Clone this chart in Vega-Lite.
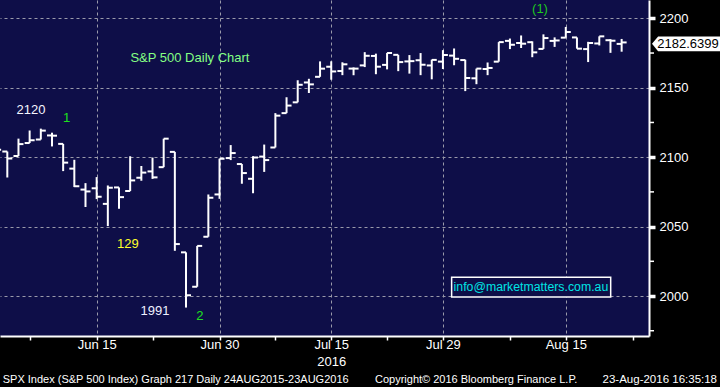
{
  "$schema": "https://vega.github.io/schema/vega-lite/v6.json",
  "width": 649,
  "height": 336,
  "autosize": {"type": "none"},
  "padding": {"left": 0, "top": 0, "right": 71, "bottom": 51},
  "background": "black",
  "config": {
    "view": {"fill": "#0e0e48", "stroke": null},
    "font": "Liberation Sans",
    "axis": {
      "labelFont": "Liberation Sans",
      "labelFontSize": 13,
      "labelColor": "white",
      "domainColor": "white",
      "domainWidth": 2,
      "tickColor": "white",
      "gridColor": "#9a9aaa",
      "gridDash": [3, 3],
      "gridWidth": 1
    }
  },
  "datasets": {
    "ohlc": [
      {"d": "2016-06-02", "i": -1, "o": 2097.71, "h": 2105.26, "l": 2088.59, "c": 2105.26},
      {"d": "2016-06-03", "i": 0, "o": 2104.07, "h": 2104.07, "l": 2085.36, "c": 2099.13},
      {"d": "2016-06-06", "i": 1, "o": 2100.83, "h": 2113.36, "l": 2100.83, "c": 2109.41},
      {"d": "2016-06-07", "i": 2, "o": 2110.18, "h": 2119.22, "l": 2110.18, "c": 2112.13},
      {"d": "2016-06-08", "i": 3, "o": 2112.71, "h": 2120.55, "l": 2112.71, "c": 2119.12},
      {"d": "2016-06-09", "i": 4, "o": 2115.65, "h": 2117.64, "l": 2107.73, "c": 2115.48},
      {"d": "2016-06-10", "i": 5, "o": 2109.57, "h": 2109.57, "l": 2089.96, "c": 2096.07},
      {"d": "2016-06-13", "i": 6, "o": 2091.75, "h": 2098.12, "l": 2078.46, "c": 2079.06},
      {"d": "2016-06-14", "i": 7, "o": 2076.65, "h": 2081.30, "l": 2064.10, "c": 2075.32},
      {"d": "2016-06-15", "i": 8, "o": 2077.60, "h": 2085.65, "l": 2069.80, "c": 2071.50},
      {"d": "2016-06-16", "i": 9, "o": 2066.36, "h": 2079.62, "l": 2050.37, "c": 2077.99},
      {"d": "2016-06-17", "i": 10, "o": 2078.20, "h": 2078.20, "l": 2062.84, "c": 2071.22},
      {"d": "2016-06-20", "i": 11, "o": 2075.58, "h": 2100.66, "l": 2075.58, "c": 2083.25},
      {"d": "2016-06-21", "i": 12, "o": 2085.19, "h": 2093.66, "l": 2083.02, "c": 2088.90},
      {"d": "2016-06-22", "i": 13, "o": 2089.75, "h": 2099.71, "l": 2084.36, "c": 2085.45},
      {"d": "2016-06-23", "i": 14, "o": 2092.80, "h": 2113.32, "l": 2092.80, "c": 2113.32},
      {"d": "2016-06-24", "i": 15, "o": 2103.81, "h": 2103.81, "l": 2032.57, "c": 2037.41},
      {"d": "2016-06-27", "i": 16, "o": 2031.45, "h": 2031.45, "l": 1991.68, "c": 2000.54},
      {"d": "2016-06-28", "i": 17, "o": 2006.67, "h": 2036.09, "l": 2006.67, "c": 2036.09},
      {"d": "2016-06-29", "i": 18, "o": 2042.69, "h": 2073.13, "l": 2042.69, "c": 2070.77},
      {"d": "2016-06-30", "i": 19, "o": 2073.17, "h": 2098.94, "l": 2070.00, "c": 2098.86},
      {"d": "2016-07-01", "i": 20, "o": 2099.34, "h": 2108.71, "l": 2097.90, "c": 2102.95},
      {"d": "2016-07-05", "i": 21, "o": 2095.05, "h": 2095.05, "l": 2080.86, "c": 2088.55},
      {"d": "2016-07-06", "i": 22, "o": 2084.43, "h": 2100.72, "l": 2074.02, "c": 2099.73},
      {"d": "2016-07-07", "i": 23, "o": 2100.42, "h": 2109.08, "l": 2089.39, "c": 2097.90},
      {"d": "2016-07-08", "i": 24, "o": 2106.97, "h": 2131.71, "l": 2106.97, "c": 2129.90},
      {"d": "2016-07-11", "i": 25, "o": 2131.72, "h": 2143.16, "l": 2131.72, "c": 2137.16},
      {"d": "2016-07-12", "i": 26, "o": 2139.50, "h": 2155.40, "l": 2139.50, "c": 2152.14},
      {"d": "2016-07-13", "i": 27, "o": 2153.81, "h": 2156.45, "l": 2146.21, "c": 2152.43},
      {"d": "2016-07-14", "i": 28, "o": 2157.88, "h": 2168.99, "l": 2157.88, "c": 2163.75},
      {"d": "2016-07-15", "i": 29, "o": 2165.13, "h": 2169.05, "l": 2155.79, "c": 2161.74},
      {"d": "2016-07-18", "i": 30, "o": 2162.04, "h": 2168.35, "l": 2159.07, "c": 2166.89},
      {"d": "2016-07-19", "i": 31, "o": 2163.79, "h": 2164.63, "l": 2159.01, "c": 2163.78},
      {"d": "2016-07-20", "i": 32, "o": 2166.10, "h": 2175.63, "l": 2164.89, "c": 2173.02},
      {"d": "2016-07-21", "i": 33, "o": 2172.91, "h": 2174.56, "l": 2159.75, "c": 2165.17},
      {"d": "2016-07-22", "i": 34, "o": 2166.47, "h": 2175.11, "l": 2163.24, "c": 2175.03},
      {"d": "2016-07-25", "i": 35, "o": 2173.71, "h": 2173.71, "l": 2161.95, "c": 2168.48},
      {"d": "2016-07-26", "i": 36, "o": 2168.97, "h": 2173.54, "l": 2160.18, "c": 2169.18},
      {"d": "2016-07-27", "i": 37, "o": 2169.81, "h": 2174.98, "l": 2159.07, "c": 2166.58},
      {"d": "2016-07-28", "i": 38, "o": 2166.05, "h": 2170.23, "l": 2156.08, "c": 2170.06},
      {"d": "2016-07-29", "i": 39, "o": 2168.83, "h": 2177.09, "l": 2163.49, "c": 2173.60},
      {"d": "2016-08-01", "i": 40, "o": 2173.15, "h": 2178.29, "l": 2166.21, "c": 2170.84},
      {"d": "2016-08-02", "i": 41, "o": 2169.94, "h": 2170.20, "l": 2147.58, "c": 2157.03},
      {"d": "2016-08-03", "i": 42, "o": 2156.81, "h": 2163.79, "l": 2152.56, "c": 2163.79},
      {"d": "2016-08-04", "i": 43, "o": 2163.51, "h": 2168.19, "l": 2159.07, "c": 2164.25},
      {"d": "2016-08-05", "i": 44, "o": 2168.79, "h": 2182.87, "l": 2168.79, "c": 2182.87},
      {"d": "2016-08-08", "i": 45, "o": 2183.76, "h": 2185.44, "l": 2177.85, "c": 2180.89},
      {"d": "2016-08-09", "i": 46, "o": 2182.24, "h": 2187.66, "l": 2178.61, "c": 2181.74},
      {"d": "2016-08-10", "i": 47, "o": 2182.81, "h": 2183.41, "l": 2172.00, "c": 2175.49},
      {"d": "2016-08-11", "i": 48, "o": 2177.97, "h": 2188.45, "l": 2177.97, "c": 2185.79},
      {"d": "2016-08-12", "i": 49, "o": 2183.74, "h": 2186.28, "l": 2179.42, "c": 2184.05},
      {"d": "2016-08-15", "i": 50, "o": 2186.08, "h": 2193.81, "l": 2186.08, "c": 2190.15},
      {"d": "2016-08-16", "i": 51, "o": 2186.24, "h": 2186.24, "l": 2178.14, "c": 2178.15},
      {"d": "2016-08-17", "i": 52, "o": 2177.84, "h": 2183.08, "l": 2168.50, "c": 2182.22},
      {"d": "2016-08-18", "i": 53, "o": 2181.90, "h": 2187.03, "l": 2180.46, "c": 2187.02},
      {"d": "2016-08-19", "i": 54, "o": 2184.24, "h": 2185.00, "l": 2175.13, "c": 2183.87},
      {"d": "2016-08-22", "i": 55, "o": 2181.58, "h": 2185.15, "l": 2175.96, "c": 2182.64}
    ],
    "minor": [{"v": 1975}, {"v": 2025}, {"v": 2075}, {"v": 2125}, {"v": 2175}],
    "one": [{}]
  },
  "layer": [
    {
      "data": {"name": "ohlc"},
      "mark": {"type": "rule", "color": "white", "strokeWidth": 2, "clip": true},
      "encoding": {
        "x": {
          "field": "i",
          "type": "quantitative",
          "scale": {"domain": [-0.654, 57.45], "nice": false, "zero": false},
          "axis": {
            "orient": "bottom",
            "title": null,
            "values": [2, 8, 13, 19, 24, 29, 34, 39, 45, 50, 56],
            "labelExpr": "datum.value == 8 ? 'Jun 15' : datum.value == 19 ? 'Jun 30' : datum.value == 29 ? ['Jul 15', '2016'] : datum.value == 39 ? 'Jul 29' : datum.value == 50 ? 'Aug 15' : ''",
            "labelLineHeight": 17,
            "labelBaseline": "top",
            "labelPadding": -2,
            "tickSize": 4,
            "tickWidth": 1.5,
            "labelFlush": false,
            "labelOverlap": false,
            "grid": true,
            "gridOpacity": {"condition": {"test": "indexof([8, 19, 29, 39, 50], datum.value) >= 0", "value": 1}, "value": 0}
          }
        },
        "y": {
          "field": "l",
          "type": "quantitative",
          "scale": {"domain": [1971.2, 2213.2], "nice": false, "zero": false},
          "axis": {
            "orient": "right",
            "title": null,
            "values": [2000, 2050, 2100, 2150, 2200],
            "format": "d",
            "tickSize": 6,
            "tickWidth": 3.5,
            "labelPadding": 4,
            "labelOverlap": false,
            "labelFlush": false,
            "grid": true
          }
        },
        "y2": {"field": "h"}
      }
    },
    {
      "data": {"name": "ohlc"},
      "mark": {"type": "tick", "orient": "horizontal", "color": "white", "size": 5, "thickness": 2, "xOffset": -2.5, "opacity": 1, "clip": true},
      "encoding": {
        "x": {"field": "i", "type": "quantitative"},
        "y": {"field": "o", "type": "quantitative"}
      }
    },
    {
      "data": {"name": "ohlc"},
      "mark": {"type": "tick", "orient": "horizontal", "color": "white", "size": 5, "thickness": 2, "xOffset": 2.5, "opacity": 1, "clip": true},
      "encoding": {
        "x": {"field": "i", "type": "quantitative"},
        "y": {"field": "c", "type": "quantitative"}
      }
    },
    {
      "data": {"name": "minor"},
      "mark": {"type": "rule", "color": "white", "strokeWidth": 1.5, "x2Offset": 5, "clip": false},
      "encoding": {
        "x": {"datum": 57.45, "type": "quantitative"},
        "x2": {"datum": 57.45},
        "y": {"field": "v", "type": "quantitative"}
      }
    },
    {
      "data": {"name": "one"},
      "mark": {"type": "text", "text": "S&P 500 Daily Chart", "color": "#84ff84", "fontSize": 13, "align": "center", "baseline": "middle"},
      "encoding": {"x": {"datum": 16.35, "type": "quantitative"}, "y": {"datum": 2171.4, "type": "quantitative"}}
    },
    {
      "data": {"name": "one"},
      "mark": {"type": "text", "text": "2120", "color": "#f4f6ff", "fontSize": 13, "align": "center", "baseline": "middle"},
      "encoding": {"x": {"datum": 2.12, "type": "quantitative"}, "y": {"datum": 2134.0, "type": "quantitative"}}
    },
    {
      "data": {"name": "one"},
      "mark": {"type": "text", "text": "1", "color": "#1ee01e", "fontSize": 13, "align": "center", "baseline": "middle"},
      "encoding": {"x": {"datum": 5.3, "type": "quantitative"}, "y": {"datum": 2128.2, "type": "quantitative"}}
    },
    {
      "data": {"name": "one"},
      "mark": {"type": "text", "text": "129", "color": "#ffff2a", "fontSize": 13, "align": "center", "baseline": "middle"},
      "encoding": {"x": {"datum": 10.8, "type": "quantitative"}, "y": {"datum": 2037.5, "type": "quantitative"}}
    },
    {
      "data": {"name": "one"},
      "mark": {"type": "text", "text": "1991", "color": "#eef0ff", "fontSize": 13, "align": "center", "baseline": "middle"},
      "encoding": {"x": {"datum": 13.22, "type": "quantitative"}, "y": {"datum": 1989.2, "type": "quantitative"}}
    },
    {
      "data": {"name": "one"},
      "mark": {"type": "text", "text": "2", "color": "#1ee01e", "fontSize": 13, "align": "center", "baseline": "middle"},
      "encoding": {"x": {"datum": 17.25, "type": "quantitative"}, "y": {"datum": 1985.6, "type": "quantitative"}}
    },
    {
      "data": {"name": "one"},
      "mark": {"type": "text", "text": "(1)", "color": "#1ec81e", "fontSize": 13, "align": "center", "baseline": "middle"},
      "encoding": {"x": {"datum": 47.69, "type": "quantitative"}, "y": {"datum": 2206.7, "type": "quantitative"}}
    },
    {
      "data": {"name": "one"},
      "mark": {"type": "rect", "fill": "#0e0e48", "stroke": "white", "strokeWidth": 1.5},
      "encoding": {
        "x": {"datum": 39.78, "type": "quantitative"},
        "x2": {"datum": 54.02},
        "y": {"datum": 2013.5, "type": "quantitative"},
        "y2": {"datum": 1999.3}
      }
    },
    {
      "data": {"name": "one"},
      "mark": {"type": "text", "text": "info@marketmatters.com.au", "color": "#00e4e4", "fontSize": 12.3, "align": "center", "baseline": "middle"},
      "encoding": {"x": {"datum": 46.88, "type": "quantitative"}, "y": {"datum": 2006.4, "type": "quantitative"}}
    },
    {
      "data": {"name": "one"},
      "mark": {"type": "point", "shape": "M -1 0 L -0.82 -0.22 L 1 -0.22 L 1 0.22 L -0.82 0.22 Z", "size": 4624, "filled": true, "color": "white", "opacity": 1},
      "encoding": {"x": {"datum": 60.76, "type": "quantitative"}, "y": {"datum": 2181.6, "type": "quantitative"}}
    },
    {
      "data": {"name": "one"},
      "mark": {"type": "text", "text": "2182.6399", "color": "black", "fontSize": 13, "align": "center", "baseline": "middle"},
      "encoding": {"x": {"datum": 60.94, "type": "quantitative"}, "y": {"datum": 2181.6, "type": "quantitative"}}
    },
    {
      "data": {"name": "one"},
      "mark": {"type": "text", "text": "SPX Index (S&P 500 Index) Graph 217  Daily 24AUG2015-23AUG2016", "color": "white", "fontSize": 11, "align": "left", "baseline": "alphabetic"},
      "encoding": {"x": {"datum": -0.41, "type": "quantitative"}, "y": {"datum": 1937.2, "type": "quantitative"}}
    },
    {
      "data": {"name": "one"},
      "mark": {"type": "text", "text": "Copyright© 2016 Bloomberg Finance L.P.", "color": "white", "fontSize": 11, "align": "left", "baseline": "alphabetic"},
      "encoding": {"x": {"datum": 32.92, "type": "quantitative"}, "y": {"datum": 1937.2, "type": "quantitative"}}
    },
    {
      "data": {"name": "one"},
      "mark": {"type": "text", "text": "23-Aug-2016 16:35:18", "color": "white", "fontSize": 11.5, "align": "right", "baseline": "alphabetic"},
      "encoding": {"x": {"datum": 63.54, "type": "quantitative"}, "y": {"datum": 1937.2, "type": "quantitative"}}
    }
  ]
}
